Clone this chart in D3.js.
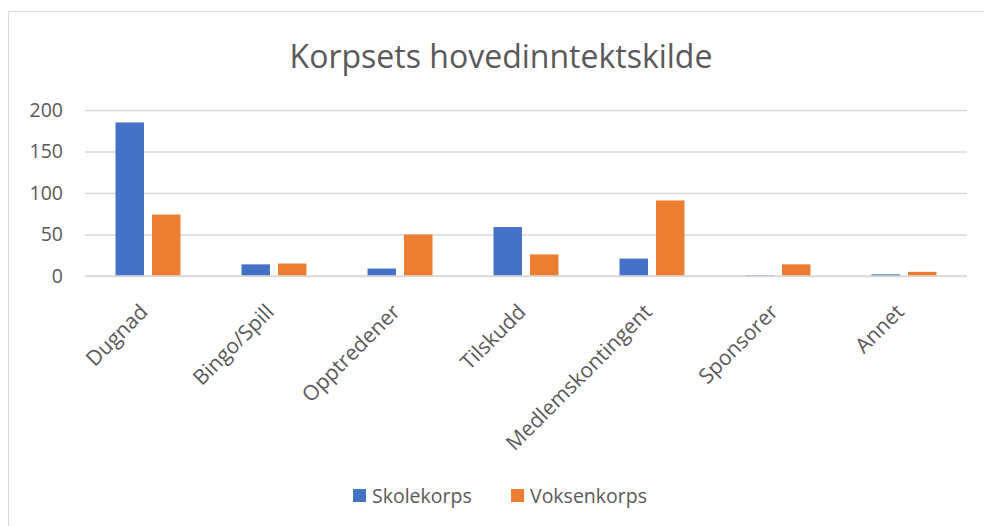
<!DOCTYPE html>
<html>
<head>
<meta charset="utf-8">
<script src="https://cdn.jsdelivr.net/npm/d3@7"></script>
<style>
  body { margin: 0; background: #fff; }
  text { font-family: "Open Sans", sans-serif; fill: #595959; }
</style>
</head>
<body>
<div id="chart"></div>
<script>
// data
const categories = ['Dugnad', 'Bingo/Spill', 'Opptredener', 'Tilskudd', 'Medlemskontingent', 'Sponsorer', 'Annet'];
const seriesNames = ['Skolekorps', 'Voksenkorps'];
const skolekorps = [185, 14, 9, 59, 21, 1, 2];
const voksenkorps = [74, 15, 50, 26, 91, 14, 5];
const yTicks = [0, 50, 100, 150, 200];
const colors = ['#4472C4', '#ED7D31'];

const width = 984;
const height = 526;

const svg = d3.select('#chart')
    .append('svg')
    .attr('width', width)
    .attr('height', height);

// chart frame (only top and left edges are inside the shot)
svg.append('path')
    .attr('d', `M8.5,${height} V11.5 H${width}`)
    .attr('fill', 'none')
    .attr('stroke', '#d9d9d9')
    .attr('stroke-width', 1);

const margin = { top: 110, left: 85, right: 17 };
const plotWidth = width - margin.left - margin.right;
const plotHeight = 166;

const chart = svg.append('g')
    .attr('transform', `translate(${margin.left},${margin.top})`);

const rows = categories.map((c, i) => ({ key: c, values: [skolekorps[i], voksenkorps[i]] }));

const x0 = d3.scaleBand()
    .domain(categories)
    .range([0, plotWidth]);

const x1 = d3.scaleBand()
    .domain([0, 1])
    .range([0, x0.bandwidth()])
    .paddingInner(0.22)
    .paddingOuter(0.836);

const y = d3.scaleLinear()
    .domain([0, 200])
    .range([plotHeight, 0]);

// gridlines
const yAxis = d3.axisLeft(y)
    .tickValues(yTicks)
    .tickSize(-plotWidth)
    .tickPadding(22);

chart.append('g')
    .classed('y axis', true)
    .call(yAxis)
    .call(g => g.select('.domain').remove())
    .call(g => g.selectAll('line').attr('stroke', '#d9d9d9').attr('stroke-width', 1.3))
    .call(g => g.selectAll('text').style('font-size', '19.5px').attr('fill', '#595959'));

// bars
chart.selectAll('.group')
    .data(rows)
    .enter()
    .append('g')
    .classed('group', true)
    .attr('transform', d => `translate(${x0(d.key)},0)`)
    .selectAll('rect')
    .data(d => d.values)
    .enter()
    .append('rect')
    .attr('x', (d, i) => x1(i))
    .attr('y', d => y(d))
    .attr('width', x1.bandwidth())
    .attr('height', d => plotHeight - y(d))
    .style('fill', (d, i) => colors[i]);

// baseline
chart.append('line')
    .attr('x1', 0)
    .attr('x2', plotWidth)
    .attr('y1', plotHeight)
    .attr('y2', plotHeight)
    .attr('stroke', '#d9d9d9')
    .attr('stroke-width', 1.3);

// x labels, rotated
const xAxis = d3.axisBottom(x0).tickSize(0).tickPadding(0);
chart.append('g')
    .classed('x axis', true)
    .attr('transform', `translate(0,${plotHeight})`)
    .call(xAxis)
    .call(g => g.select('.domain').remove())
    .call(g => g.selectAll('text')
        .style('font-size', '21px')
        .attr('fill', '#595959')
        .style('text-anchor', 'end')
        .attr('dy', '0.35em')
        .attr('transform', 'translate(-4,32) rotate(-45)'));

// title
svg.append('text')
    .attr('x', 501)
    .attr('y', 68)
    .style('font-size', '32px')
    .style('text-anchor', 'middle')
    .text('Korpsets hovedinntektskilde');

// legend
const legendX = [353, 511];
const legend = svg.selectAll('.legend')
    .data(seriesNames)
    .enter()
    .append('g')
    .classed('legend', true)
    .attr('transform', (d, i) => `translate(${legendX[i]},489)`);

legend.append('rect')
    .attr('width', 13)
    .attr('height', 13)
    .style('fill', (d, i) => colors[i]);

legend.append('text')
    .attr('x', 19)
    .attr('y', 14)
    .style('font-size', '19.5px')
    .text(d => d);
</script>
</body>
</html>
